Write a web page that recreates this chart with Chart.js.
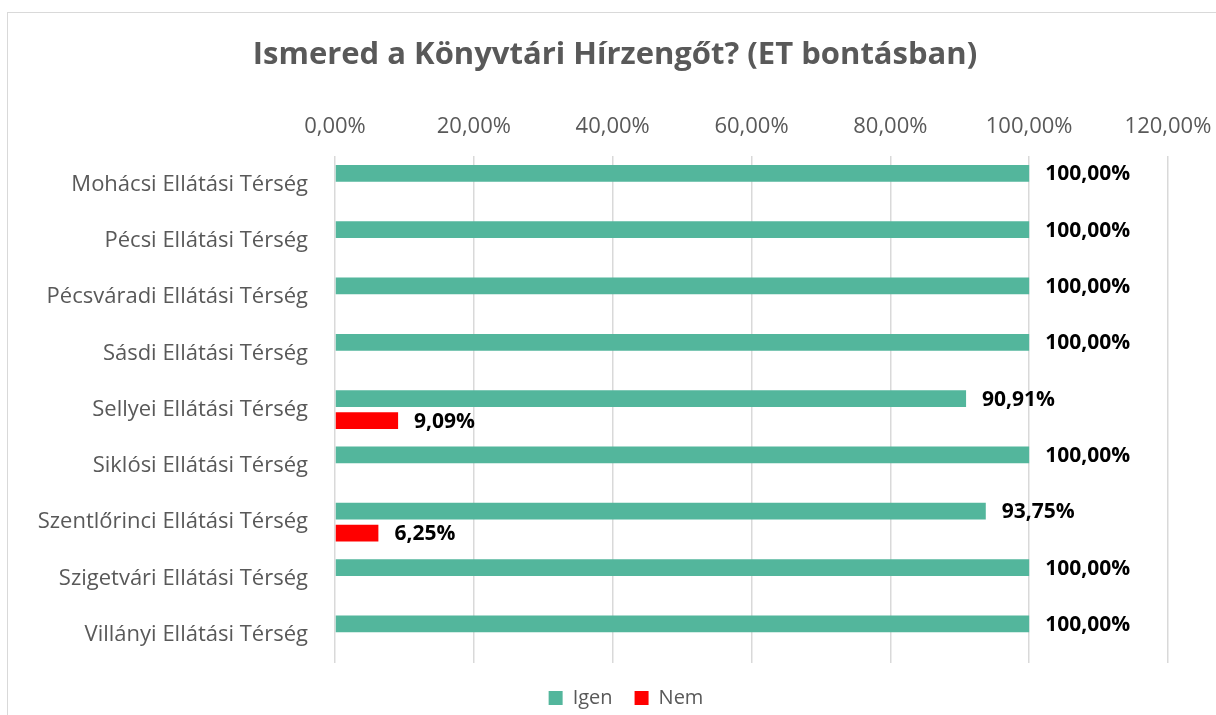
<!DOCTYPE html>
<html>
<head>
<meta charset="utf-8">
<script src="https://cdn.jsdelivr.net/npm/chart.js@4/dist/chart.umd.min.js"></script>
<style>
  html, body { margin: 0; padding: 0; background: #fff; }
  #wrap { width: 1216px; height: 715px; }
</style>
</head>
<body>
<div id="wrap"><canvas id="chart" width="1216" height="715"></canvas></div>
<script>
// adatok
const kategoriak = [
    'Mohácsi Ellátási Térség',
    'Pécsi Ellátási Térség',
    'Pécsváradi Ellátási Térség',
    'Sásdi Ellátási Térség',
    'Sellyei Ellátási Térség',
    'Siklósi Ellátási Térség',
    'Szentlőrinci Ellátási Térség',
    'Szigetvári Ellátási Térség',
    'Villányi Ellátási Térség'
];
const igenErtekek = [100, 100, 100, 100, 90.91, 100, 93.75, 100, 100];
const nemErtekek = [0, 0, 0, 0, 9.09, 0, 6.25, 0, 0];
const tengelyMin = 0;
const tengelyMax = 120;
const tengelyLepes = 20;

const szurke = '#595959';
const betu = '"Open Sans", sans-serif';

function szazalek(v) {
    return v.toFixed(2).replace('.', ',') + '%';
}

// keret a diagram korul
const keretPlugin = {
    id: 'keret',
    beforeDraw(chart) {
        const c = chart.ctx;
        c.save();
        c.strokeStyle = '#d9d9d9';
        c.lineWidth = 1;
        c.strokeRect(7.5, 12.5, 1400, 900);
        c.restore();
    }
};

// cim es jelmagyarazat kicsit jobbra (az eredetin a teljes szelesseghez van kozepre igazitva)
const eltolasPlugin = {
    id: 'eltolas',
    afterLayout(chart) {
        const lg = chart.legend;
        if (lg) {
            lg.left += 42;
            lg.right += 42;
            lg.top += 3;
            lg.bottom += 3;
        }
        const t = chart.titleBlock;
        if (t) {
            t.left += 31;
            t.right += 31;
        }
    }
};

// adatcimkek a sav vegen (0 nem kell)
const cimkePlugin = {
    id: 'cimkek',
    afterDatasetsDraw(chart) {
        const c = chart.ctx;
        c.save();
        c.font = 'bold 21px ' + betu;
        c.fillStyle = '#000';
        c.textBaseline = 'middle';
        c.textAlign = 'left';
        chart.data.datasets.forEach((ds, i) => {
            const meta = chart.getDatasetMeta(i);
            meta.data.forEach((bar, j) => {
                const v = ds.data[j];
                if (!v) return;
                c.fillText(szazalek(v), bar.x + 16, bar.y + 1);
            });
        });
        c.restore();
    }
};

new Chart(document.getElementById('chart').getContext('2d'), {
    type: 'bar',
    data: {
        labels: kategoriak,
        datasets: [{
            label: 'Igen',
            data: igenErtekek,
            backgroundColor: '#53B69C',
            categoryPercentage: 0.782,
            barPercentage: 0.76
        }, {
            label: 'Nem',
            data: nemErtekek,
            backgroundColor: '#FF0000',
            categoryPercentage: 0.782,
            barPercentage: 0.76
        }]
    },
    options: {
        responsive: false,
        animation: false,
        indexAxis: 'y',
        layout: { padding: { left: 0, right: 48, top: 0, bottom: 0 } },
        plugins: {
            title: {
                display: true,
                text: 'Ismered a Könyvtári Hírzengőt? (ET bontásban)',
                color: szurke,
                font: { family: betu, size: 31, weight: 'bold' },
                padding: { top: 37, bottom: 0 }
            },
            legend: {
                position: 'bottom',
                labels: {
                    color: szurke,
                    font: { family: betu, size: 20 },
                    boxWidth: 14,
                    boxHeight: 14,
                    padding: 22
                }
            },
            tooltip: { enabled: false }
        },
        scales: {
            x: {
                position: 'top',
                min: tengelyMin,
                max: tengelyMax,
                ticks: {
                    stepSize: tengelyLepes,
                    color: szurke,
                    font: { family: betu, size: 22 },
                    padding: 16,
                    callback: v => szazalek(v)
                },
                grid: { color: '#d9d9d9', lineWidth: 1.5, drawTicks: false },
                border: { display: false },
                afterFit(axis) {
                    axis.height = 82;
                    axis.paddingLeft = 0;
                    axis.paddingRight = 0;
                }
            },
            y: {
                ticks: {
                    color: szurke,
                    font: { family: betu, size: 22 },
                    padding: 27
                },
                grid: { display: false, drawTicks: false },
                border: { display: false },
                afterFit(axis) { axis.width = 335; }
            }
        }
    },
    plugins: [keretPlugin, eltolasPlugin, cimkePlugin]
});
</script>
</body>
</html>
